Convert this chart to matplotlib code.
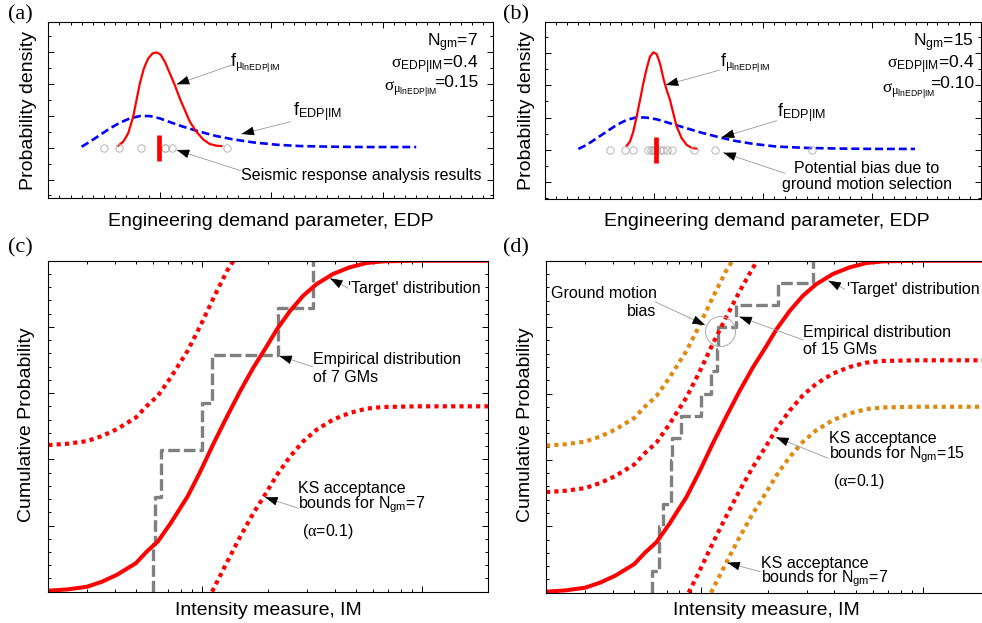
import numpy as np
import matplotlib.pyplot as plt
from matplotlib.patches import FancyArrowPatch
from matplotlib.ticker import MultipleLocator, LogLocator

plt.rcParams['font.family'] = ['Liberation Sans', 'DejaVu Sans']
plt.rcParams['mathtext.fontset'] = 'custom'
plt.rcParams['mathtext.rm'] = 'Liberation Sans'
plt.rcParams['mathtext.it'] = 'Liberation Serif'

# ---- panel (a): 7 ground motions, EDP densities ----
edp_a = [0.299, 0.373, 0.463, 0.552, 0.642, 0.731, 0.821, 0.910, 1.000, 1.090,
         1.209, 1.358, 1.507, 1.657, 1.836, 2.045, 2.254, 2.552, 2.851, 3.299]
pdf_edp_a = [0.031, 0.188, 0.398, 0.607, 0.785, 0.921, 0.995, 0.995, 0.921, 0.806,
             0.660, 0.503, 0.366, 0.262, 0.168, 0.094, 0.052, 0.031, 0.021, 0.021]
mu_a = [0.627, 0.672, 0.716, 0.761, 0.791, 0.821, 0.857, 0.896, 0.934, 0.970, 1.006,
        1.045, 1.090, 1.134, 1.179, 1.224, 1.269, 1.328, 1.388, 1.448, 1.507, 1.552]
pdf_mu_a = [0.063, 0.188, 0.450, 0.974, 1.497, 2.021, 2.492, 2.806, 2.963, 2.995, 2.932,
            2.702, 2.335, 1.969, 1.550, 1.183, 0.817, 0.503, 0.262, 0.115, 0.063, 0.052]
gm_edp_a = [0.50, 0.63, 0.83, 1.05, 1.05, 1.11, 1.60]
median_a = 0.99

# ---- panel (b): 15 ground motions ----
edp_b = [0.306, 0.382, 0.474, 0.566, 0.657, 0.749, 0.841, 0.933, 1.024, 1.147,
         1.269, 1.422, 1.575, 1.728, 1.911, 2.125, 2.401, 2.706, 3.012, 3.394]
pdf_edp_b = [0.031, 0.155, 0.361, 0.567, 0.773, 0.928, 1.010, 1.000, 0.948, 0.825,
             0.701, 0.546, 0.412, 0.289, 0.186, 0.103, 0.062, 0.041, 0.031, 0.031]
mu_b = [0.749, 0.780, 0.810, 0.841, 0.872, 0.902, 0.933, 0.963, 0.994, 1.024,
        1.055, 1.086, 1.116, 1.147, 1.177, 1.208, 1.254, 1.300, 1.346, 1.391]
pdf_mu_b = [0.124, 0.258, 0.567, 1.031, 1.546, 2.062, 2.526, 2.887, 3.021, 2.969,
            2.680, 2.216, 1.856, 1.546, 1.134, 0.722, 0.361, 0.155, 0.062, 0.041]
gm_edp_b = [0.596, 0.734, 0.810, 0.948, 0.969, 0.994, 1.00, 1.018, 1.055, 1.086,
            1.122, 1.162, 1.370, 1.560, 2.446]
median_b = 1.02
bar_low, bar_high = -0.41, 0.40

# ---- panels (c), (d): cumulative distributions over IM ----
target_im = [0.20, 0.245, 0.30, 0.35, 0.41, 0.50, 0.56, 0.63, 0.72, 0.86, 0.98, 1.13, 1.30,
             1.49, 1.71, 1.97, 2.19, 2.51, 2.88, 3.31, 3.94, 4.69, 5.58, 6.64, 9.4, 20.0]
target_cdf = [0.003, 0.007, 0.015, 0.030, 0.051, 0.086, 0.121, 0.152, 0.207, 0.288, 0.362,
              0.449, 0.530, 0.606, 0.677, 0.742, 0.793, 0.848, 0.894, 0.929, 0.960, 0.980,
              0.993, 0.998, 1.0, 1.0]

ks7_up_im = [0.20, 0.245, 0.30, 0.35, 0.41, 0.50, 0.56, 0.63, 0.72, 0.86, 0.98, 1.13, 1.30, 1.39]
ks7_up = [0.443, 0.447, 0.455, 0.470, 0.491, 0.526, 0.561, 0.592, 0.647, 0.728, 0.802,
          0.889, 0.970, 1.0]
ks7_lo_im = [1.11, 1.30, 1.49, 1.71, 1.97, 2.19, 2.51, 2.88, 3.31, 3.94, 4.69, 5.58, 6.64, 9.4, 20.0]
ks7_lo = [0.0, 0.090, 0.166, 0.237, 0.302, 0.353, 0.408, 0.454, 0.489, 0.520, 0.540,
          0.553, 0.558, 0.560, 0.560]

ks15_up_im = [0.20, 0.245, 0.30, 0.35, 0.41, 0.50, 0.56, 0.63, 0.72, 0.86, 0.98, 1.13,
              1.30, 1.49, 1.71, 1.80]
ks15_up = [0.303, 0.307, 0.315, 0.330, 0.351, 0.386, 0.421, 0.452, 0.507, 0.588, 0.662,
           0.749, 0.830, 0.906, 0.977, 1.0]
ks15_lo_im = [0.88, 0.98, 1.13, 1.30, 1.49, 1.71, 1.97, 2.19, 2.51, 2.88, 3.31, 3.94,
              4.69, 5.58, 6.64, 9.4, 20.0]
ks15_lo = [0.0, 0.062, 0.149, 0.230, 0.306, 0.377, 0.442, 0.493, 0.548, 0.594, 0.629,
           0.660, 0.680, 0.693, 0.698, 0.700, 0.700]

gm7_im = [0.600, 0.612, 0.648, 1.00, 1.11, 2.223, 3.201]
gm15_im = [0.601, 0.646, 0.650, 0.671, 0.732, 0.735, 0.740, 0.812, 1.00, 1.11,
           1.187, 1.191, 1.438, 2.218, 3.19]
bias_im, bias_p = 1.218, 0.788

RED = '#ff0000'
BLUE = '#0000ff'
GREY = '#808080'
ORANGE = '#df8b12'

W, H = 982, 623
fig = plt.figure(figsize=(W / 100, H / 100), dpi=100)


def fx(px):
    return px / W


def fy(py):
    return 1 - py / H


def box(left, top, right, bottom):
    return fig.add_axes([fx(left), fy(bottom), (right - left) / W, (bottom - top) / H])


def style(ax):
    for s in ax.spines.values():
        s.set_linewidth(0.8)
    ax.tick_params(which='both', direction='in', top=True, right=True,
                   labelbottom=False, labelleft=False, width=0.7)
    ax.tick_params(which='major', length=4)
    ax.tick_params(which='minor', length=2.2)


def label(text, px, py, ha='left', size=11.5, **kw):
    fig.text(fx(px), fy(py), text, ha=ha, va='baseline', fontsize=size, **kw)


def pointer(x0, y0, x1, y1):
    # thin grey leader with a black head at (x1, y1)
    fig.add_artist(FancyArrowPatch((fx(x0), fy(y0)), (fx(x1), fy(y1)),
                                   transform=fig.transFigure, arrowstyle='-',
                                   color='#999999', lw=0.6, shrinkA=0, shrinkB=0))
    d = np.hypot(x0 - x1, y0 - y1)
    bx = x1 + (x0 - x1) * 11 / d
    by = y1 + (y0 - y1) * 11 / d
    fig.add_artist(FancyArrowPatch((fx(bx), fy(by)), (fx(x1), fy(y1)),
                                   transform=fig.transFigure,
                                   arrowstyle='-|>,head_length=0.8,head_width=0.28',
                                   mutation_scale=10, color='k', lw=0.5,
                                   shrinkA=0, shrinkB=0))


def density_panel(ax, edp, pdf_edp, mu, pdf_mu, gms, median, ylim, xmax):
    ax.plot(edp, pdf_edp, color=BLUE, lw=1.9, dashes=(3, 1.5))
    ax.plot(mu, pdf_mu, color=RED, lw=1.6)
    ax.plot(gms, np.zeros(len(gms)), 'o', ms=5.3, mfc='none', mec='#b3b3b3', mew=0.7)
    ax.plot([median, median], [bar_low, bar_high], color=RED, lw=3.4, solid_capstyle='butt')
    ax.set_xlim(0, xmax)
    ax.set_ylim(*ylim)
    ax.xaxis.set_major_locator(MultipleLocator(1))
    ax.xaxis.set_minor_locator(MultipleLocator(0.1))
    ax.yaxis.set_major_locator(MultipleLocator(1))
    ax.yaxis.set_minor_locator(MultipleLocator(0.5))
    style(ax)


def cdf_panel(ax):
    ax.set_xscale('log')
    ax.set_xlim(0.2, 20)
    ax.set_ylim(0, 1)
    ax.xaxis.set_major_locator(LogLocator(base=10))
    ax.xaxis.set_minor_locator(LogLocator(base=10, subs=np.arange(2, 10), numticks=20))
    ax.yaxis.set_major_locator(MultipleLocator(0.2))
    ax.yaxis.set_minor_locator(MultipleLocator(0.04))
    style(ax)


def ecdf(ax, sample):
    n = len(sample)
    xs = [sample[0]] + list(sample)
    ys = [0] + list(np.arange(1, n + 1) / n)
    ax.step(xs, ys, where='post', color=GREY, lw=2.4, dashes=(3.5, 1.2))


dot = (0, (1, 1))

# (a)
ax_a = box(48.3, 21.7, 493.3, 198.3)
density_panel(ax_a, edp_a, pdf_edp_a, mu_a, pdf_mu_a, gm_edp_a, median_a, (-1.59, 3.96), 3.99)

# (b)
ax_b = box(545, 21.7, 981, 199)
density_panel(ax_b, edp_b, pdf_edp_b, mu_b, pdf_mu_b, gm_edp_b, median_b, (-1.52, 3.97), 4.0)

# (c)
ax_c = box(48.3, 260.7, 488.3, 591.7)
cdf_panel(ax_c)
ecdf(ax_c, gm7_im)
ax_c.plot(target_im, target_cdf, color=RED, lw=2.9)
ax_c.plot(ks7_up_im, ks7_up, color=RED, lw=3, linestyle=dot)
ax_c.plot(ks7_lo_im, ks7_lo, color=RED, lw=3, linestyle=dot)

# (d)
ax_d = box(546, 260.7, 989.3, 592.7)
cdf_panel(ax_d)
ecdf(ax_d, gm15_im)
ax_d.plot(target_im, target_cdf, color=RED, lw=2.9)
ax_d.plot(ks7_up_im, ks7_up, color=ORANGE, lw=3, linestyle=dot)
ax_d.plot(ks7_lo_im, ks7_lo, color=ORANGE, lw=3, linestyle=dot)
ax_d.plot(ks15_up_im, ks15_up, color=RED, lw=3, linestyle=dot)
ax_d.plot(ks15_lo_im, ks15_lo, color=RED, lw=3, linestyle=dot)
ax_d.plot([bias_im], [bias_p], 'o', ms=21.6, mfc='none', mec='#a8a8a8', mew=0.7)

# axis titles
fig.text(fx(270.8), fy(221), 'Engineering demand parameter, EDP', ha='center', va='center', fontsize=14)
fig.text(fx(766.7), fy(221), 'Engineering demand parameter, EDP', ha='center', va='center', fontsize=14)
fig.text(fx(28.3), fy(110), 'Probability density', ha='center', va='center', rotation=90, fontsize=14)
fig.text(fx(526.7), fy(110), 'Probability density', ha='center', va='center', rotation=90, fontsize=14)
fig.text(fx(268.3), fy(610.7), 'Intensity measure, IM', ha='center', va='center', fontsize=14)
fig.text(fx(766.7), fy(610.7), 'Intensity measure, IM', ha='center', va='center', fontsize=14)
fig.text(fx(26.7), fy(425), 'Cumulative Probability', ha='center', va='center', rotation=90, fontsize=14)
fig.text(fx(525), fy(425), 'Cumulative Probability', ha='center', va='center', rotation=90, fontsize=14)

# panel letters
for letter, px, py in [('(a)', 8, 5), ('(b)', 503, 5), ('(c)', 8, 238), ('(d)', 503, 238)]:
    fig.text(fx(px), fy(py), letter, ha='left', va='top', fontsize=16, family='Liberation Serif')

f_mu = r'$\mathrm{f}_{\mu_{\mathrm{lnEDP|IM}}}$'
f_edp = r'$\mathrm{f}_{\mathrm{EDP|IM}}$'
s_edp = r'$\sigma_{\mathrm{EDP|IM}}$=0.4'
s_mu = r'$\sigma_{\mu_{\mathrm{lnEDP|IM}}}$'
n_gm = r'N$_{\mathrm{gm}}$'

# (a) notes
label(n_gm + '=7', 478.3, 46.7, ha='right', size=12.5)
label(s_edp, 478.3, 68.3, ha='right', size=12.5)
label('=0.15', 478.3, 87.3, ha='right', size=12.5)
label(s_mu, 437.3, 90.7, ha='right', size=12.5)
label(f_mu, 230, 66.7, size=13)
label(f_edp, 293.3, 115, size=13)
label('Seismic response analysis results', 240.7, 180)
pointer(231.7, 65, 176.7, 84.3)
pointer(290.7, 121.7, 241.5, 134)
pointer(240.7, 170.7, 176.7, 150)

# (b) notes
label(n_gm + '=15', 974, 46.7, ha='right', size=12.5)
label(s_edp, 974, 68.3, ha='right', size=12.5)
label('=0.10', 974, 88.3, ha='right', size=12.5)
label(s_mu, 935, 93.3, ha='right', size=12.5)
label(f_mu, 720, 66.7, size=13)
label(f_edp, 776.7, 116.7, size=13)
label('Potential bias due to', 866.7, 172.7, ha='center')
label('ground motion selection', 866.7, 189.3, ha='center')
pointer(720, 70, 665.7, 85)
pointer(776.7, 120.7, 721.7, 137.3)
pointer(785, 173.3, 723.3, 152.7)

# (c) notes
label("'Target' distribution", 348.3, 292.7)
label('Empirical distribution', 313.3, 364)
label('of 7 GMs', 313.3, 381.7)
label('KS acceptance', 298.3, 492.7)
label('bounds for ' + n_gm + '=7', 298.3, 508.3)
label(r'($\alpha$=0.1)', 301.7, 536)
pointer(348.3, 288.3, 330, 278.3)
pointer(312.7, 366.7, 279.3, 356)
pointer(298.3, 508.3, 265, 497.3)

# (d) notes
label('Ground motion', 656.7, 298.3, ha='right')
label('bias', 656.7, 316, ha='right')
label("'Target' distribution", 846.7, 294)
label('Empirical distribution', 803.3, 336.7)
label('of 15 GMs', 803.3, 354.3)
label('KS acceptance', 829.3, 443.3)
label('bounds for ' + n_gm + '=15', 829.3, 458.3)
label(r'($\alpha$=0.1)', 833.3, 485.7)
label('KS acceptance', 760.7, 567.7)
label('bounds for ' + n_gm + '=7', 760.7, 582.7)
pointer(655, 301.7, 705, 325)
pointer(845, 289.3, 828.3, 280.7)
pointer(803.3, 340, 739.3, 316.7)
pointer(828.3, 458.3, 776, 437.3)
pointer(760, 571.7, 727.3, 562.7)

fig.savefig('out.png', dpi=100)
